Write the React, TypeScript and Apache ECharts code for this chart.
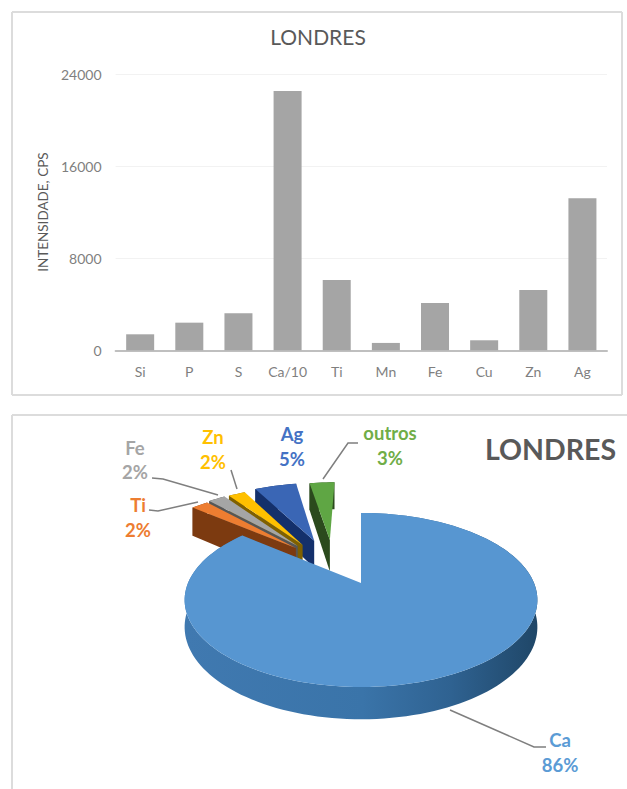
import React, { useEffect, useRef } from "react";
import * as echarts from "echarts";

// Bar panel data
const elements = ["Si", "P", "S", "Ca/10", "Ti", "Mn", "Fe", "Cu", "Zn", "Ag"];
const intensities = [1390, 2400, 3210, 22520, 6110, 640, 4110, 870, 5240, 13200];
const yTicks = [0, 8000, 16000, 24000];

// Pie panel data, clockwise from twelve o'clock
const pieNames = ["Ca", "Ti", "Fe", "Zn", "Ag", "outros"];
const pieShares = [86, 2, 2, 2, 5, 3];

const FONT = "Lato, Carlito, 'Open Sans', sans-serif";
const WIDTH = 627;
const HEIGHT = 789;

// Perspective camera for the tilted pie
const CAM = { x: 361, y: 583, sx: 173, sy: 83.7, p: 0.195 };
const project = (X: number, Z: number, drop = 0): number[] => {
  const d = 1 + CAM.p * Z;
  return [CAM.x + (CAM.sx * X) / d, CAM.y - (CAM.sy * Z) / d + drop / d];
};

// Per-slice explosion offset, wall depth and colours, keyed by slice name
const sliceLook: Record<string, any> = {
  Ca: { ox: 0, oz: 0, depth: 26, top: "#5796d1", wall: "#3b75ab", text: "#5b9bd5" },
  Ti: { ox: -0.41, oz: 0.455, depth: 34, top: "#ed7d31", wall: "#7c3a10", text: "#ed7d31" },
  Fe: { ox: -0.4, oz: 0.484, depth: 32, top: "#a5a5a5", wall: "#565656", text: "#a5a5a5" },
  Zn: { ox: -0.37, oz: 0.498, depth: 32, top: "#ffc000", wall: "#7f6000", text: "#ffc000" },
  Ag: { ox: -0.3, oz: 0.56, depth: 30, top: "#3a66b5", wall: "#14306b", text: "#4472c4" },
  outros: { ox: -0.2, oz: 0.571, depth: 35, top: "#5fa644", wall: "#2b4a1d", text: "#70ad47" },
};

// Label anchors and leader lines for the pie callouts
const calloutLayout: Record<string, any> = {
  Ca: { x: 560, y1: 740, y2: 765, line: [[546, 747], [534, 747], [450, 710]] },
  Ti: { x: 138, y1: 505, y2: 530, line: [[149, 510], [158, 511], [198, 502]] },
  Fe: { x: 135, y1: 448, y2: 472, line: [[152, 478], [163, 479], [218, 495]] },
  Zn: { x: 213, y1: 437, y2: 462, line: [[231, 470], [237, 489]] },
  Ag: { x: 292, y1: 434, y2: 459 },
  outros: { x: 390, y1: 433, y2: 458, line: [[358, 443], [348, 443], [323, 479]] },
};

// Cumulative start and end angles in degrees for every slice
const total = pieShares.reduce((a, b) => a + b, 0);
const sliceAngles = pieShares.map((v, i) => {
  const before = pieShares.slice(0, i).reduce((a, b) => a + b, 0);
  return { start: (before / total) * 360, end: ((before + v) / total) * 360 };
});

// Back-to-front painting order: far right wedge first, large slice last
const paintOrder = [5, 4, 3, 2, 1, 0];

function renderSlice(_params: any, api: any) {
  const idx = api.value(0);
  const name = pieNames[idx];
  const look = sliceLook[name];
  const { start, end } = sliceAngles[idx];
  const rimAt = (deg: number) => {
    const r = (deg * Math.PI) / 180;
    return [look.ox + Math.sin(r), look.oz + Math.cos(r)];
  };
  const rim: number[][] = [];
  const steps = Math.max(2, Math.ceil((end - start) / 2));
  for (let i = 0; i <= steps; i++) rim.push(rimAt(start + ((end - start) * i) / steps));

  const topRim = rim.map(([x, z]) => project(x, z));
  const lowRim = rim.map(([x, z]) => project(x, z, look.depth)).reverse();
  const apexTop = project(look.ox, look.oz);
  const apexLow = project(look.ox, look.oz, look.depth);
  const firstLow = project(rim[0][0], rim[0][1], look.depth);

  const wallFill =
    name === "Ca"
      ? new echarts.graphic.LinearGradient(
          186, 0, 539, 0,
          [
            { offset: 0, color: "#4079b0" },
            { offset: 0.5, color: "#3a74a9" },
            { offset: 0.75, color: "#2f6291" },
            { offset: 1, color: "#1f4667" },
          ],
          true,
        )
      : look.wall;

  return {
    type: "group",
    silent: true,
    children: [
      { type: "polygon", shape: { points: [...topRim, ...lowRim] }, style: { fill: wallFill } },
      { type: "polygon", shape: { points: [apexTop, topRim[0], firstLow, apexLow] }, style: { fill: look.wall } },
      { type: "polygon", shape: { points: [apexTop, ...topRim] }, style: { fill: look.top } },
    ],
  };
}

function frameLine(x1: number, y1: number, x2: number, y2: number) {
  return {
    type: "line",
    silent: true,
    shape: { x1, y1, x2, y2 },
    style: { stroke: "#dcdcdc", lineWidth: 2 },
  };
}

function calloutGraphics() {
  const items: any[] = [];
  pieNames.forEach((name, i) => {
    const spot = calloutLayout[name];
    const color = sliceLook[name].text;
    [
      { text: name, y: spot.y1 },
      { text: `${pieShares[i]}%`, y: spot.y2 },
    ].forEach((t) =>
      items.push({
        type: "text",
        silent: true,
        x: spot.x,
        y: t.y,
        z: 10,
        style: {
          text: t.text,
          fill: color,
          font: `bold 18.5px ${FONT}`,
          textAlign: "center",
          textVerticalAlign: "middle",
        },
      }),
    );
    if (spot.line) {
      items.push({
        type: "polyline",
        silent: true,
        z: 9,
        shape: { points: spot.line },
        style: { stroke: "#7f7f7f", lineWidth: 1.5, fill: "none" },
      });
    }
  });
  return items;
}

export default function App() {
  const ref = useRef<HTMLDivElement>(null);

  useEffect(() => {
    document.body.style.margin = "0";
    const chart = echarts.init(ref.current!, undefined, { renderer: "svg" });
    chart.setOption({
      animation: false,
      backgroundColor: "#ffffff",
      grid: { left: 115.6, right: 20, top: 74, height: 276.3, containLabel: false },
      xAxis: {
        type: "category",
        data: elements,
        axisTick: { show: false },
        axisLine: { lineStyle: { color: "#bfbfbf", width: 2 } },
        axisLabel: { color: "#7f7f7f", fontFamily: FONT, fontSize: 14, margin: 14, interval: 0 },
      },
      yAxis: {
        type: "value",
        min: yTicks[0],
        max: yTicks[yTicks.length - 1],
        interval: yTicks[1] - yTicks[0],
        name: "INTENSIDADE, CPS",
        nameLocation: "middle",
        nameGap: 60,
        nameTextStyle: { color: "#595959", fontFamily: FONT, fontSize: 13.5 },
        axisLine: { show: false },
        axisTick: { show: false },
        axisLabel: {
          color: "#7f7f7f",
          fontFamily: FONT,
          fontSize: 14,
          margin: 14,
          formatter: (v: number) => String(v),
        },
        splitLine: { lineStyle: { color: "#f2f2f2", width: 1 } },
      },
      series: [
        {
          type: "bar",
          data: intensities,
          barCategoryGap: "43%",
          itemStyle: { color: "#a5a5a5" },
          silent: true,
        },
        {
          type: "custom",
          coordinateSystem: "none",
          silent: true,
          clip: false,
          renderItem: renderSlice,
          data: paintOrder.map((i) => [i]),
        },
      ],
      graphic: [
        frameLine(12, 12, 622, 12),
        frameLine(622, 12, 622, 395),
        frameLine(622, 395, 12, 395),
        frameLine(12, 395, 12, 12),
        frameLine(12, 415, 627, 415),
        frameLine(12, 415, 12, 789),
        {
          type: "text",
          silent: true,
          x: 318,
          y: 36,
          style: {
            text: "LONDRES",
            fill: "#595959",
            font: `21px ${FONT}`,
            textAlign: "center",
            textVerticalAlign: "middle",
          },
        },
        {
          type: "text",
          silent: true,
          x: 485,
          y: 449,
          style: {
            text: "LONDRES",
            fill: "#595959",
            font: `bold 28.5px ${FONT}`,
            textAlign: "left",
            textVerticalAlign: "middle",
          },
        },
        ...calloutGraphics(),
      ],
    });
    return () => chart.dispose();
  }, []);

  return <div ref={ref} style={{ width: WIDTH, height: HEIGHT, position: "absolute", left: 0, top: 0 }} />;
}
